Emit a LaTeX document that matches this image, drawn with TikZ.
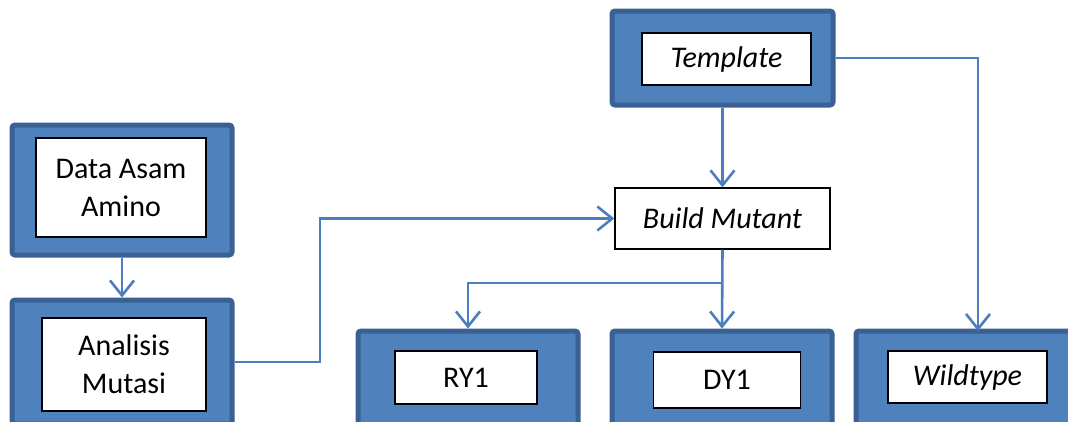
\documentclass[tikz,border=0pt]{standalone}
\usepackage{fontspec}
\setmainfont{Carlito}
\usetikzlibrary{arrows.meta}
\definecolor{boxfill}{HTML}{4F81BD}
\definecolor{boxedge}{HTML}{3B6194}
\definecolor{linkc}{HTML}{4A7EBF}
\tikzset{
  outerbox/.style={rectangle, fill=boxfill, draw=boxedge, line width=5pt, rounded corners=3pt, inner sep=0pt},
  innerbox/.style={rectangle, fill=white, draw=black, line width=1.2pt, inner sep=0pt, align=center,
    font=\fontsize{30}{38}\selectfont},
  plainbox/.style={rectangle, fill=white, draw=black, line width=1.2pt, inner sep=0pt, align=center,
    font=\fontsize{30}{38}\selectfont\itshape},
  link/.style={draw=linkc, line width=2.6pt, -{Straight Barb[length=15pt,width=24pt,line width=2.6pt]}},
  linkplain/.style={draw=linkc, line width=2.6pt}
}
\begin{document}
\begin{tikzpicture}[x=1pt,y=-1pt]
\useasboundingbox (0,0) rectangle (1068,421);
\clip (0,0) rectangle (1068,421);
\fill[white] (0,0) rectangle (1068,421);
% outer frames
\node[outerbox, minimum width=220pt, minimum height=130pt] (dataO) at (122,190) {};
\node[outerbox, minimum width=220pt, minimum height=124pt] (anaO) at (122,362) {};
\node[outerbox, minimum width=221pt, minimum height=94pt] (tplO) at (722.5,58) {};
\node[outerbox, minimum width=220pt, minimum height=124pt] (ryO) at (468,393) {};
\node[outerbox, minimum width=220pt, minimum height=124pt] (dyO) at (722,393) {};
\node[outerbox, minimum width=220pt, minimum height=124pt] (wtO) at (966,393) {};
% inner boxes
\node[innerbox, minimum width=170pt, minimum height=99pt] (data) at (121,187.5) {Data Asam\\Amino};
\node[innerbox, minimum width=164pt, minimum height=93pt] (ana) at (124,364.5) {Analisis\\Mutasi};
\node[innerbox, minimum width=169pt, minimum height=52pt, font=\fontsize{30}{38}\selectfont\itshape] (tpl) at (726.5,59) {Template};
\node[innerbox, minimum width=142pt, minimum height=53pt] (ry) at (466,377.5) {RY1};
\node[innerbox, minimum width=147pt, minimum height=56pt] (dy) at (727,380) {DY1};
\node[innerbox, minimum width=159pt, minimum height=52pt, font=\fontsize{30}{38}\selectfont\itshape] (wt) at (967.5,377) {Wildtype};
\node[plainbox, minimum width=215pt, minimum height=61pt] (build) at (722.5,218.5) {Build Mutant};
% connectors
\coordinate (bend1) at (320,362);
\coordinate (wtop) at (978,331);
\coordinate (split) at (722.5,283);
\draw[link] (dataO.south) -- (anaO.north);
\draw[link] (anaO.east) -- (bend1) |- (build.west);
\draw[link] (tplO.south) -- (build.north);
\draw[link] (tplO.east) -| (wtop);
\draw[link] (build.south) -- (dyO.north);
\draw[link] (split) -| (ryO.north);
\end{tikzpicture}
\end{document}
